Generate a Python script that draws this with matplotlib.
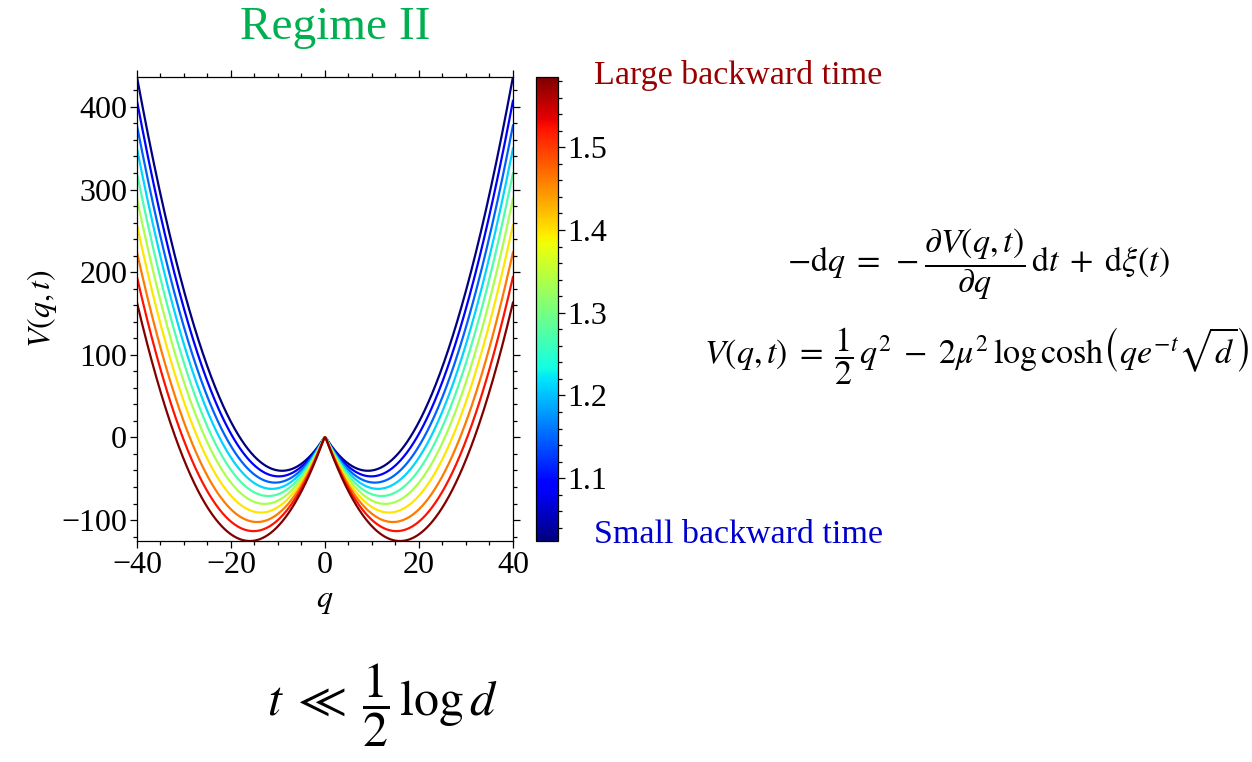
import numpy as np
import matplotlib
matplotlib.use("Agg")
import matplotlib.pyplot as plt
from matplotlib.ticker import MultipleLocator, AutoMinorLocator

plt.rcParams['mathtext.fontset'] = 'stix'
plt.rcParams['font.family'] = ['Liberation Serif', 'DejaVu Serif']

# backward time of each curve (colour bar scale)
t_vals = [1.024, 1.086, 1.148, 1.211, 1.273, 1.336, 1.398, 1.461, 1.523, 1.585]
# V(q,t) read at q = +-40 for each curve
end_vals = [435, 406, 376, 348, 318, 287, 255, 222, 192, 161]
q_max = 40
t_range = (1.024, 1.585)
cbar_ticks = [1.1, 1.2, 1.3, 1.4, 1.5]

fig = plt.figure(figsize=(12.52, 7.62), dpi=100)
ax = fig.add_axes([0.1094, 0.290, 0.3003, 0.609])
cax = fig.add_axes([0.4281, 0.290, 0.0176, 0.609])

cmap = plt.get_cmap('jet')
norm = matplotlib.colors.Normalize(*t_range)

q = np.linspace(-q_max, q_max, 2001)
k = 5.0  # q e^{-t} sqrt(d) scale, large -> sharp cusp at 0
allv = []
for t, ve in zip(t_vals, end_vals):
    a = (q_max**2 / 2 - ve) / q_max
    v = 0.5 * q**2 - (a / k) * np.log(np.cosh(k * q))
    allv.append(v)
    ax.plot(q, v, color=cmap(norm(t)), lw=1.6)

allv = np.concatenate(allv)
ax.set_xlim(-q_max, q_max)
ax.set_ylim(allv.min(), allv.max())
ax.xaxis.set_major_locator(MultipleLocator(20))
ax.xaxis.set_minor_locator(MultipleLocator(5))
ax.yaxis.set_major_locator(MultipleLocator(100))
ax.yaxis.set_minor_locator(MultipleLocator(20))
ax.tick_params(which='both', direction='out', top=True, right=True, labelsize=23, width=0.9)
ax.tick_params(which='major', length=5, pad=2)
ax.tick_params(which='minor', length=3)
ax.set_xlabel(r'$q$', fontsize=23, labelpad=5)
ax.set_ylabel(r'$V(q,t)$', fontsize=23, labelpad=2)
for s in ax.spines.values():
    s.set_linewidth(0.9)

sm = matplotlib.cm.ScalarMappable(norm=norm, cmap=cmap)
cb = fig.colorbar(sm, cax=cax, ticks=cbar_ticks)
cb.ax.yaxis.set_minor_locator(AutoMinorLocator(5))
cb.ax.tick_params(which='both', direction='out', labelsize=23, width=0.9)
cb.ax.tick_params(which='major', length=5, pad=2)
cb.ax.tick_params(which='minor', length=3)
cb.outline.set_linewidth(0.9)

fig.text(0.2676, 0.963, 'Regime II', color='#00B050', fontsize=34, ha='center', va='center')
fig.text(0.4745, 0.901, 'Large backward time', color='#990000', fontsize=24.5, ha='left', va='center')
fig.text(0.4745, 0.298, 'Small backward time', color='#0000CC', fontsize=24.5, ha='left', va='center')

fig.text(0.7812, 0.653,
         r'$-\mathrm{d}q \;=\; -\dfrac{\partial V(q,t)}{\partial q}\,\mathrm{d}t \;+\; \mathrm{d}\xi(t)$',
         fontsize=24.5, ha='center', va='center')
fig.text(0.7800, 0.532,
         r'$V(q,t) \;=\; \dfrac{1}{2}\,q^2 \;-\; 2\mu^2\,\log\cosh\!\left(q e^{-t}\sqrt{d}\right)$',
         fontsize=24.5, ha='center', va='center')
fig.text(0.305, 0.075, r'$t \;\ll\; \dfrac{1}{2}\,\log d$', fontsize=36, ha='center', va='center')

fig.savefig('out.png', dpi=100)
